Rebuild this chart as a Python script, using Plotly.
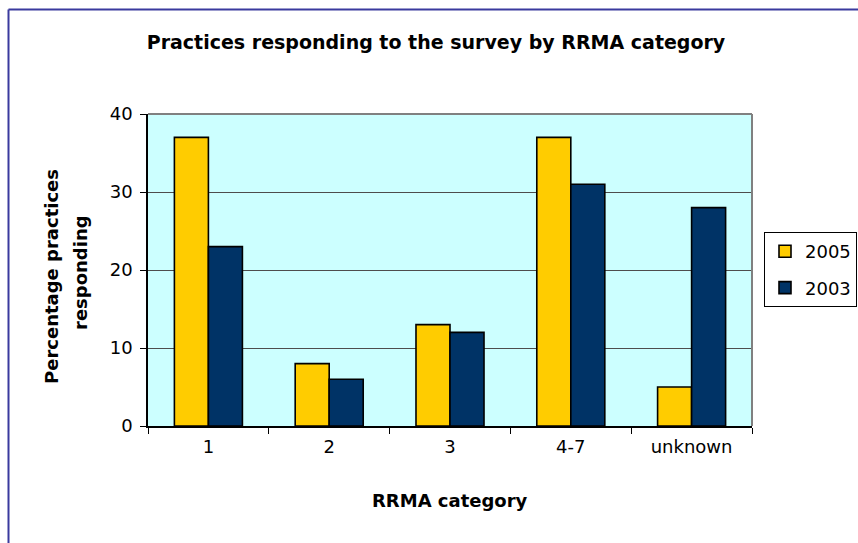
import plotly.graph_objects as go

categories = ["1", "2", "3", "4-7", "unknown"]
values_2005 = [37, 8, 13, 37, 5]
values_2003 = [23, 6, 12, 31, 28]
y_ticks = [0, 10, 20, 30, 40]

FONT = "DejaVu Sans"
W, H = 858, 543
L, R, T, B = 148, 106, 114, 117
PW, PH = W - L - R, H - T - B


def px_x(x):
    return (x - L) / PW


def px_y(y):
    return 1 - (y - T) / PH


fig = go.Figure()
fig.add_trace(go.Bar(name="2005", x=categories, y=values_2005,
                     marker=dict(color="#FFCC00", line=dict(color="#000000", width=1.6)),
                     legendgroup="a"))
fig.add_trace(go.Bar(name="2003", x=categories, y=values_2003,
                     marker=dict(color="#003366", line=dict(color="#000000", width=1.6)),
                     legendgroup="b"))

shapes = [
    # plot area top/right gray border
    dict(type="line", xref="paper", yref="paper", x0=0, x1=1, y0=1, y1=1,
         line=dict(color="#808080", width=2), layer="above"),
    dict(type="line", xref="paper", yref="paper", x0=1, x1=1, y0=0, y1=1,
         line=dict(color="#808080", width=2), layer="above"),
    # outer chart frame (blue)
    dict(type="line", xref="paper", yref="paper", x0=px_x(8.5), x1=px_x(900),
         y0=px_y(9.5), y1=px_y(9.5), line=dict(color="#3a3a9e", width=2)),
    dict(type="line", xref="paper", yref="paper", x0=px_x(8.5), x1=px_x(8.5),
         y0=px_y(9.5), y1=px_y(600), line=dict(color="#3a3a9e", width=2)),
]

annotations = [
    dict(text="<b>RRMA category</b>", xref="paper", yref="paper", x=0.5, y=px_y(500),
         xanchor="center", yanchor="middle", showarrow=False,
         font=dict(family=FONT, size=18, color="#000")),
    dict(text="<b>Percentage practices</b>", xref="paper", yref="paper", x=px_x(51), y=px_y(277),
         xanchor="center", yanchor="middle", showarrow=False, textangle=-90,
         font=dict(family=FONT, size=18, color="#000")),
    dict(text="<b>responding</b>", xref="paper", yref="paper", x=px_x(80), y=px_y(273),
         xanchor="center", yanchor="middle", showarrow=False, textangle=-90,
         font=dict(family=FONT, size=18, color="#000")),
]

fig.update_layout(
    width=W, height=H,
    margin=dict(l=L, r=R, t=T, b=B, pad=0, autoexpand=False),
    paper_bgcolor="#FFFFFF",
    plot_bgcolor="#CCFFFF",
    barmode="group",
    bargap=0.437,
    bargroupgap=0,
    title=dict(text="<b>Practices responding to the survey by RRMA category</b>",
               x=436 / W, xref="container", xanchor="center",
               y=1 - 42 / H, yref="container", yanchor="middle",
               font=dict(family=FONT, size=19, color="#000")),
    font=dict(family=FONT, size=18, color="#000"),
    legend=dict(x=857 / W, xref="container", y=px_y(232), xanchor="right", yanchor="top",
                bordercolor="#000000", borderwidth=1, bgcolor="#FFFFFF",
                font=dict(family=FONT, size=18, color="#000"),
                tracegroupgap=10, traceorder="grouped"),
    xaxis=dict(type="category", showline=True, linecolor="#000000", linewidth=1.5,
               ticks="outside", ticklen=6, tickcolor="#000000", tickwidth=1,
               tickson="boundaries", showgrid=False, ticklabelstandoff=4,
               tickfont=dict(family=FONT, size=18, color="#000")),
    yaxis=dict(range=[0, 40], tickvals=y_ticks, showline=True, linecolor="#000000",
               linewidth=1.5, ticks="outside", ticklen=6, tickcolor="#000000",
               showgrid=True, gridcolor="#4d4d4d", gridwidth=1, zeroline=False,
               ticklabelstandoff=4,
               tickfont=dict(family=FONT, size=18, color="#000")),
    shapes=shapes,
    annotations=annotations,
    showlegend=True,
)

fig.write_html("out.html")
